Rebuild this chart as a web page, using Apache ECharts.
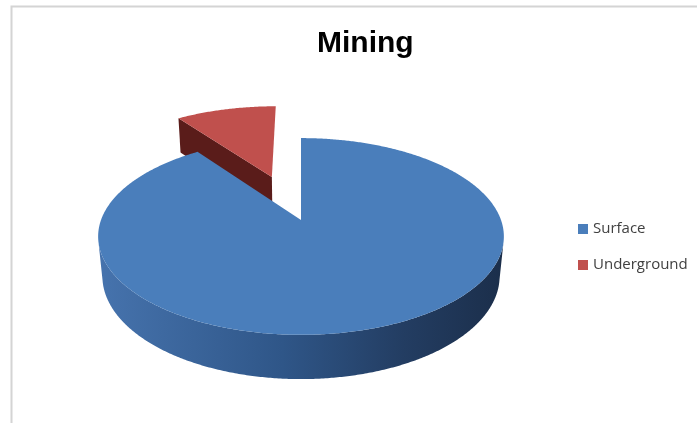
<!DOCTYPE html>
<html>
<head>
<meta charset="utf-8">
<script src="https://cdn.jsdelivr.net/npm/echarts@6/dist/echarts.min.js"></script>
<style>
  html, body { margin: 0; padding: 0; background: #ffffff; }
  #chart { width: 697px; height: 423px; }
</style>
</head>
<body>
<div id="chart"></div>
<script>
// Pie data
const categories = ['Surface', 'Underground'];
const values = [90, 10];
const explodedCategory = 'Underground';

// Slice styling
const topColors = { Surface: '#4a7ebb', Underground: '#c0504d' };
const cutColors = { Surface: '#2a4b78', Underground: '#5a1c1a' };
const sideStops = {
  Surface: [
    { offset: 0, color: '#4673ad' },
    { offset: 0.45, color: '#2f5688' },
    { offset: 0.75, color: '#233d62' },
    { offset: 1, color: '#1b2e4a' }
  ],
  Underground: [
    { offset: 0, color: '#8a2f2c' },
    { offset: 1, color: '#4a1614' }
  ]
};

// Camera / disc geometry (pixels)
const VIEW = {
  cx: 301, cy: 220,       // projected centre of the top face
  r: 200,                 // disc radius
  thick: 45.7,            // disc thickness
  elev: 28.56 * Math.PI / 180,
  dist: 1049,             // eye distance for perspective
  explode: 102            // offset of the pulled-out slice
};

const total = values.reduce((a, b) => a + b, 0);

function project(u, v, up) {
  const sE = Math.sin(VIEW.elev), cE = Math.cos(VIEW.elev);
  const yc = v * sE - up * cE;
  const zc = v * cE + up * sE;
  const s = VIEW.dist / (VIEW.dist - zc);
  return [VIEW.cx + u * s, VIEW.cy + yc * s];
}

function rim(o, theta, up) {
  return project(o[0] + VIEW.r * Math.sin(theta), o[1] - VIEW.r * Math.cos(theta), up);
}

function sliceAngles(idx) {
  let before = 0;
  for (let i = 0; i < idx; i++) before += values[i];
  const a0 = before / total * Math.PI * 2;
  const a1 = (before + values[idx]) / total * Math.PI * 2;
  return [a0, a1];
}

function makeRender(idx) {
  const name = categories[idx];
  return function () {
    const [a0, a1] = sliceAngles(idx);
    const mid = (a0 + a1) / 2;
    const e = name === explodedCategory ? VIEW.explode : 0;
    const o = [e * Math.sin(mid), -e * Math.cos(mid)];
    const h = -VIEW.thick;
    const step = Math.PI / 360;
    const children = [];
    const cE = Math.cos(VIEW.elev), sE = Math.sin(VIEW.elev);
    const camU = 0, camV = VIEW.dist * cE;

    // curved outer wall (front-facing part only)
    const limit = VIEW.r / (VIEW.dist * cE);
    const pts = [];
    const vis = [];
    for (let t = a0; t <= a1 + 1e-9; t += step) {
      const th = Math.min(t, a1);
      if (-Math.cos(th) > limit - 0.02) vis.push(th);
    }
    if (vis.length > 1) {
      vis.forEach(th => pts.push(rim(o, th, 0)));
      for (let i = vis.length - 1; i >= 0; i--) pts.push(rim(o, vis[i], h));
      children.push({
        type: 'polygon',
        shape: { points: pts },
        style: {
          fill: new echarts.graphic.LinearGradient(100, 0, 505, 0, sideStops[name], true)
        }
      });
    }

    // radial cut faces (skip the ones seen almost edge-on)
    const faces = [
      { ang: a0, n: [-Math.cos(a0), -Math.sin(a0)] },
      { ang: a1, n: [Math.cos(a1), Math.sin(a1)] }
    ];
    faces.forEach(f => {
      const d = f.n[0] * (camU - o[0]) + f.n[1] * (camV - o[1]);
      if (d > 60 && (a1 - a0) < Math.PI * 2 - 1e-6) {
        children.push({
          type: 'polygon',
          shape: {
            points: [
              project(o[0], o[1], 0),
              rim(o, f.ang, 0),
              rim(o, f.ang, h),
              project(o[0], o[1], h)
            ]
          },
          style: { fill: cutColors[name] }
        });
      }
    });

    // top face
    const top = [project(o[0], o[1], 0)];
    for (let t = a0; t <= a1 + 1e-9; t += step) top.push(rim(o, Math.min(t, a1), 0));
    top.push(rim(o, a1, 0));
    children.push({
      type: 'polygon',
      shape: { points: top },
      style: { fill: topColors[name] }
    });

    return { type: 'group', children: children };
  };
}

// back slice first so the front slice paints over it
const drawOrder = [1, 0];

const chart = echarts.init(document.getElementById('chart'), null, { renderer: 'canvas' });
chart.setOption({
  animation: false,
  backgroundColor: '#ffffff',
  title: {
    text: 'Mining',
    left: 312,
    top: 24,
    textStyle: {
      fontFamily: 'Liberation Sans',
      fontWeight: 'bold',
      fontSize: 30,
      color: '#000000'
    }
  },
  legend: {
    data: categories,
    orient: 'vertical',
    left: 573,
    top: 216,
    icon: 'rect',
    itemWidth: 10,
    itemHeight: 10,
    itemGap: 20,
    textStyle: {
      fontFamily: 'Open Sans',
      fontSize: 15,
      lineHeight: 16,
      color: '#404040'
    }
  },
  graphic: [{
    type: 'rect',
    shape: { x: 11.5, y: 6.5, width: 800, height: 600 },
    style: { fill: 'none', stroke: '#d4d4d4', lineWidth: 2 },
    silent: true,
    z: -10
  }],
  series: drawOrder.map(i => ({
    type: 'custom',
    name: categories[i],
    coordinateSystem: 'none',
    itemStyle: { color: topColors[categories[i]] },
    data: [[values[i]]],
    renderItem: makeRender(i)
  }))
});
</script>
</body>
</html>
